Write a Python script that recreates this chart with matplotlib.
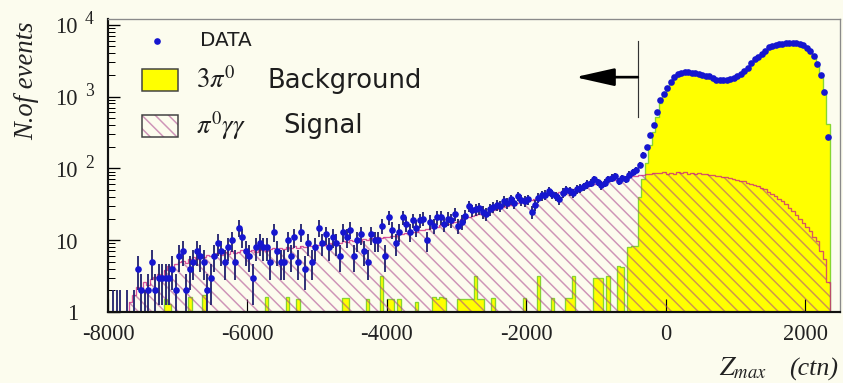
import numpy as np
import matplotlib.pyplot as plt
from matplotlib.lines import Line2D
from matplotlib.patches import Rectangle

plt.rcParams['mathtext.fontset'] = 'stix'
plt.rcParams['axes.unicode_minus'] = False
plt.rcParams['hatch.linewidth'] = 0.9

W, H, DPI = 843, 383, 120
PAPER = '#fcfcee'
SERIF = 'Liberation Serif'
HATCH = (0.66, 0.25, 0.55, 0.55)

# Z_max histogram, 50 ctn bins from -8000 to 2500 (210 bins)
z_lo, z_hi, z_step = -8000, 2500, 50

data_counts = [
    0, 1, 1, 1, 0, 1, 0, 1, 4, 2, 1, 2, 5, 2, 3, 3, 3, 3, 4, 2,
    6, 7, 2, 4, 5, 7, 6, 5, 2, 3, 6, 9, 7, 5, 8, 10, 5, 15, 11, 7,
    6, 3, 8, 9, 8, 8, 5, 13, 7, 5, 5, 10, 6, 11, 5, 13, 4, 9, 5, 8,
    15, 9, 12, 8, 11, 9, 6, 13, 11, 14, 6, 10, 12, 7, 5, 12, 10, 10, 16, 6,
    21, 14, 9, 13, 21, 17, 13, 19, 15, 19, 20, 10, 18, 16, 21, 21, 17, 20, 19, 23,
    16, 18, 22, 30, 26, 27, 28, 25, 23, 27, 29, 31, 30, 35, 33, 37, 33, 41, 36, 35,
    37, 25, 31, 39, 42, 43, 48, 44, 41, 37, 46, 50, 48, 45, 51, 53, 56, 60, 63, 70,
    64, 58, 63, 70, 74, 78, 66, 73, 70, 82, 88, 96, 112, 155, 200, 295, 405, 610, 900, 1100,
    1300, 1590, 1850, 2050, 2150, 2200, 2180, 2150, 2100, 2050,
    2000, 1950, 1900, 1800, 1720, 1700, 1690, 1710, 1750, 1820,
    1900, 2040, 2250, 2500, 2950, 3300, 3600, 3900, 4300, 4900,
    5100, 5200, 5300, 5450, 5550, 5500, 5600, 5550, 5400, 5150,
    4800, 4300, 3700, 2800, 1990, 1150, 275, 0, 0, 0,
]

signal_mc = [
    0, 0, 0, 0, 0, 0, 1.4, 1.7, 2.2, 2.0, 2.6, 2.4, 2.9, 3.1, 3.4, 3.2, 3.9, 4.3, 4.1, 4.6,
    4.9, 5.2, 4.8, 5.5, 5.8, 5.4, 6.1, 5.9, 6.3, 6.0, 6.4, 6.7, 6.2, 6.8, 6.5, 7.1, 6.6, 6.9, 7.3, 6.8,
    7.0, 7.4, 6.9, 7.2, 7.6, 7.1, 7.5, 7.8, 7.3, 7.9, 7.6, 8.1, 7.7, 8.3, 7.9, 8.4, 8.0, 8.6, 8.2, 8.7,
    8.5, 9.0, 8.7, 9.2, 8.9, 9.5, 9.1, 9.7, 9.4, 9.9, 9.6, 10.2, 9.8, 10.4, 10.1, 10.6, 10.3, 10.9, 10.6, 11.2,
    11.0, 11.6, 11.4, 12.1, 12.0, 12.6, 12.5, 13.2, 13.1, 13.8, 13.9, 14.5, 14.6, 15.3, 15.5, 16.1, 16.4, 17.0, 17.4, 18.1,
    18.6, 19.5, 20.1, 20.9, 21.6, 22.3, 23.1, 23.8, 24.9, 25.6, 26.4, 27.2, 28.3, 28.9, 29.9, 30.8, 31.7, 32.6, 33.8, 34.5,
    35.4, 36.6, 37.5, 38.9, 39.8, 41.0, 42.3, 43.4, 44.9, 46.1, 47.0, 48.6, 49.9, 51.2, 52.6, 54.0, 55.3, 57.1, 58.4, 60.3,
    62.0, 63.8, 65.1, 66.9, 68.2, 69.8, 71.5, 72.6, 74.3, 75.8, 77.0, 78.9, 80.1, 81.6, 83.0, 84.2, 85.1, 86.5, 87.4, 88.6,
    84.1, 86.3, 83.5, 88.7, 85.2, 87.9, 84.6, 86.0, 83.2, 85.4, 82.1, 83.6, 80.9, 81.7, 79.2, 78.8, 76.3, 75.1, 73.0, 71.4,
    69.5, 67.2, 65.8, 63.0, 61.4, 58.7, 56.1, 53.0, 50.8, 47.2, 44.6, 41.3, 38.0, 34.9, 31.5, 28.2, 25.4, 22.6, 19.8, 17.5,
    15.1, 13.4, 11.2, 9.6, 7.1, 5.4, 2.6, 0, 0, 0,
]

background_mc = [
    0, 0, 0, 0, 0, 0, 0, 0, 0, 0, 0, 0, 0, 0, 0, 0, 1.5, 1.3, 0, 0,
    0, 0, 0, 1.6, 0, 0, 0, 1.7, 0, 0, 0, 0, 0, 0, 0, 0, 0, 0, 0, 0,
    0, 0, 0, 0, 0, 1.6, 0, 0, 0, 0, 0, 1.6, 0, 0, 1.5, 0, 0, 0, 0, 0,
    0, 0, 0, 0, 0, 0, 0, 1.55, 1.55, 0, 0, 0, 0, 0, 1.5, 0, 0, 0, 3.2, 0,
    1.5, 1.5, 0, 1.5, 0, 0, 0, 0, 1.4, 0, 0, 0, 0, 1.6, 1.5, 1.6, 1.55, 0, 0, 0,
    1.5, 1.5, 1.5, 1.5, 1.5, 3.2, 1.5, 1.5, 0, 0, 1.55, 0, 0, 0, 0, 0, 0, 0, 0, 1.55,
    0, 0, 0, 3.2, 0, 0, 0, 1.55, 0, 0, 0, 1.55, 1.55, 3.2, 0, 0, 0, 0, 0, 3.0,
    3.0, 3.0, 0, 3.2, 0, 0, 4.4, 4.2, 0, 8.0, 8.4, 8.4, 40, 72, 118, 210, 320, 525, 815, 1010,
    1215, 1500, 1770, 1960, 2070, 2110, 2095, 2070, 2010, 1970,
    1920, 1870, 1820, 1720, 1640, 1625, 1615, 1640, 1680, 1750,
    1840, 1965, 2190, 2430, 2880, 3250, 3530, 3860, 4240, 4840,
    5060, 5150, 5270, 5400, 5530, 5460, 5580, 5520, 5390, 5120,
    4790, 4290, 3690, 2790, 1980, 1150, 420, 0, 0, 0,
]

x_ticks = [-8000, -6000, -4000, -2000, 0, 2000]
x_tick_labels = ['-8000', '-6000', '-4000', '-2000', '0', '2000']
y_decades = [0, 1, 2, 3, 4]

# cut marker: vertical line at the cut, arrow pointing to the accepted side
cut_z, arrow_tip_z, arrow_level = -400, -1300, 1860
cut_line_span = (520, 6000)

edges = np.arange(z_lo, z_hi + z_step, z_step)
centres = edges[:-1] + z_step / 2
d = np.array(data_counts, float)
sig = np.array(signal_mc, float)
bkg = np.array(background_mc, float)

fig = plt.figure(figsize=(W / DPI, H / DPI), dpi=DPI, facecolor=PAPER)
ax = fig.add_axes([108 / W, 1 - 312 / H, 732 / W, 293 / H])
ax.set_facecolor(PAPER)
ax.set_yscale('log')
ax.set_xlim(z_lo, z_hi)
ax.set_ylim(1, 12000)

# histograms start below the visible range so empty bins stay empty
floor = 0.5
ax.stairs(np.maximum(bkg, floor), edges, baseline=floor, fill=True,
          facecolor='#ffff00', linewidth=0, zorder=1)
ax.stairs(np.maximum(bkg, floor), edges, baseline=floor,
          color='#86d630', linewidth=0.8, zorder=1.5)
ax.stairs(np.maximum(sig, floor), edges, baseline=floor, fill=True,
          facecolor='none', edgecolor=HATCH, hatch='\\\\\\', linewidth=0,
          zorder=2)
ax.stairs(np.maximum(sig, floor), edges, baseline=floor,
          color=(0.8, 0.12, 0.5, 0.75), linewidth=0.8, zorder=2.5)

has = d > 0
err_lo = np.minimum(np.sqrt(d), d - 0.5)
ax.errorbar(centres[has], d[has], yerr=[err_lo[has], np.sqrt(d[has])],
            fmt='none', ecolor='#23236e', elinewidth=1.1, zorder=3)
big = d > 1
ax.plot(centres[big], d[big], 'o', ms=4.0, color='#1616cf', mec='none', zorder=4)

# cut
ax.plot([cut_z, cut_z], cut_line_span, color='#333333', lw=0.7, zorder=5)
ax.annotate('', xy=(arrow_tip_z, arrow_level), xytext=(cut_z, arrow_level),
            arrowprops=dict(arrowstyle='-|>,head_length=2.0,head_width=0.45',
                            color='black', lw=1.6, shrinkA=0, shrinkB=0),
            zorder=5)

# frame and ticks
for side in ('left', 'bottom'):
    ax.spines[side].set_linewidth(1.3)
    ax.spines[side].set_color('#111111')
for side in ('top', 'right'):
    ax.spines[side].set_linewidth(0.8)
    ax.spines[side].set_color('#8a8a8a')
for s in ax.spines.values():
    s.set_zorder(6)

ax.tick_params(axis='y', which='major', direction='in', length=7, width=0.8,
               labelleft=False)
ax.tick_params(axis='y', which='minor', direction='in', length=4, width=0.6,
               labelleft=False)
ax.set_xticks(x_ticks, labels=x_tick_labels)
ax.tick_params(axis='x', direction='in', length=8, width=0.7, pad=7,
               labelsize=13.5, labelcolor='#222222')
for lab in ax.get_xticklabels():
    lab.set_family(SERIF)

for k in y_decades:
    main = '1' if k == 0 else '10'
    ax.annotate(main, xy=(0, 10 ** k), xycoords=('axes fraction', 'data'),
                xytext=(-30, -3), textcoords='offset pixels', ha='right',
                va='center', fontsize=13.5, family=SERIF, color='#222222')
    if k >= 2:
        ax.annotate(str(k), xy=(0, 10 ** k), xycoords=('axes fraction', 'data'),
                    xytext=(-23, 5), textcoords='offset pixels', ha='left',
                    va='center', fontsize=10.5, family=SERIF, color='#222222')

fig.text(27 / W, 1 - 81 / H, 'N.of events', rotation=90, ha='center',
         va='center', fontsize=16, style='italic', family=SERIF, color='#222222')
fig.text(719 / W, 1 - 368 / H, r'$Z_{max}$', fontsize=16, ha='left',
         va='center', color='#222222')
fig.text(789 / W, 1 - 369 / H, '(ctn)', fontsize=15.5, style='italic',
         family=SERIF, ha='left', va='center', color='#222222')

# legend
def fxy(px, py):
    return px / W, 1 - py / H

fig.add_artist(Line2D([157 / W], [1 - 41 / H], marker='o', ms=4.0,
                      color='#1616cf', mec='none', transform=fig.transFigure))
fig.text(*fxy(200, 41), 'DATA', fontsize=12, family='DejaVu Sans',
         va='center', color='#1e1e1e')

fig.add_artist(Rectangle(fxy(142, 91), 36 / W, 22 / H, transform=fig.transFigure,
                         facecolor='#ffff00', edgecolor='#404040', lw=0.9))
fig.text(*fxy(196, 81), r'$3\pi^{0}$', fontsize=16, va='center', color='#1e1e1e')
fig.text(*fxy(267, 81), 'Background', fontsize=15.5, family='DejaVu Sans',
         va='center', color='#1e1e1e')

fig.add_artist(Rectangle(fxy(142, 137), 36 / W, 22 / H, transform=fig.transFigure,
                         facecolor='none', edgecolor=HATCH,
                         hatch='\\\\\\', lw=0))
fig.add_artist(Rectangle(fxy(142, 137), 36 / W, 22 / H, transform=fig.transFigure,
                         fill=False, edgecolor='#404040', lw=0.9))
fig.text(*fxy(196, 126), r'$\pi^{0}\gamma\gamma$', fontsize=16, va='center',
         color='#1e1e1e')
fig.text(*fxy(283, 126), 'Signal', fontsize=15.5, family='DejaVu Sans',
         va='center', color='#1e1e1e')

fig.savefig('out.png', dpi=DPI, facecolor=PAPER)
